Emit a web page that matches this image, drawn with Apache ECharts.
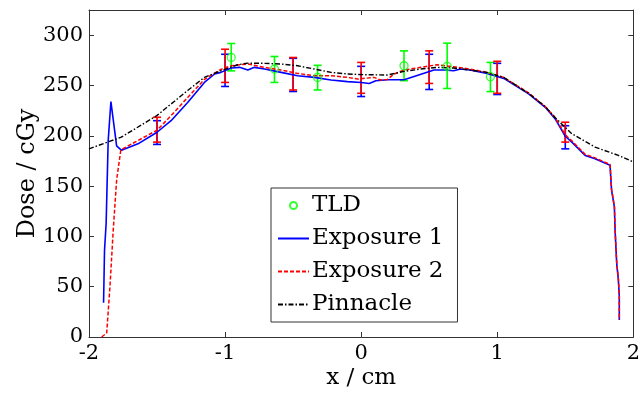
<!DOCTYPE html>
<html>
<head>
<meta charset="utf-8">
<script src="https://cdn.jsdelivr.net/npm/echarts@6/dist/echarts.min.js"></script>
<style>
  html, body { margin: 0; padding: 0; background: #fff; }
  #chart { width: 643px; height: 396px; }
</style>
</head>
<body>
<div id="chart"></div>
<script>
// dose profiles across the field, x in cm, dose in cGy
const exposure1 = [
    [-1.893, 34], [-1.886, 86], [-1.874, 113], [-1.869, 141], [-1.859, 195],
    [-1.839, 234], [-1.797, 190], [-1.761, 185.5], [-1.64, 192], [-1.5, 203.5],
    [-1.397, 215], [-1.275, 233], [-1.152, 253], [-1.077, 261.4], [-1.031, 263],
    [-0.955, 267.3], [-0.894, 268], [-0.833, 265.3], [-0.784, 268], [-0.71, 266.3],
    [-0.588, 263], [-0.467, 259.7], [-0.344, 258], [-0.222, 255.4], [-0.1, 253.8],
    [0, 253], [0.059, 252], [0.108, 254.7], [0.193, 255.7], [0.315, 255.7],
    [0.4, 259.5], [0.535, 265.3], [0.608, 265.3], [0.68, 264.6], [0.73, 266.3],
    [0.8, 265.3], [0.925, 262], [1.048, 257], [1.231, 241.6], [1.353, 228.3],
    [1.426, 216.8], [1.5, 199.5], [1.548, 193.7], [1.646, 180.5], [1.719, 177.2],
    [1.829, 170.6], [1.837, 169.6], [1.84, 146], [1.861, 129], [1.866, 106],
    [1.878, 73], [1.89, 57], [1.897, 40], [1.897, 17]
];
const exposure2 = [
    [-1.907, 0], [-1.87, 4], [-1.846, 50], [-1.822, 106], [-1.797, 156],
    [-1.766, 186], [-1.64, 195.3], [-1.5, 205.5], [-1.397, 220], [-1.275, 238],
    [-1.152, 256], [-1.031, 266], [-0.955, 269.6], [-0.833, 271.3], [-0.71, 268],
    [-0.588, 265.3], [-0.467, 262], [-0.344, 259.7], [-0.222, 259.7], [-0.1, 258],
    [-0.027, 256.4], [0.095, 258], [0.144, 255.4], [0.193, 256], [0.242, 261.4],
    [0.315, 265.3], [0.437, 268], [0.559, 270.6], [0.68, 268.6], [0.8, 266.3],
    [0.925, 263], [1.048, 258], [1.231, 242.5], [1.353, 229], [1.426, 218],
    [1.5, 201], [1.548, 195], [1.646, 181.5], [1.719, 178], [1.829, 171.5],
    [1.837, 170], [1.84, 147], [1.861, 130], [1.866, 107], [1.878, 74],
    [1.89, 58], [1.897, 41], [1.897, 17]
];
const pinnacle = [
    [-2, 187], [-1.763, 198.6], [-1.502, 220], [-1.275, 245], [-1.152, 258],
    [-1.031, 264.6], [-0.908, 270.6], [-0.833, 272.2], [-0.71, 272], [-0.588, 271.3],
    [-0.467, 269.6], [-0.344, 266.3], [-0.222, 263], [-0.1, 261.4], [0.022, 260.7],
    [0.193, 260.4], [0.315, 264], [0.437, 266.3], [0.559, 268], [0.68, 267.3],
    [0.8, 265.3], [0.925, 263], [1.048, 258], [1.231, 242], [1.353, 229],
    [1.426, 218], [1.548, 202], [1.719, 188.7], [1.89, 180.5], [2, 174]
];

// TLD points with error bars
const tldX = [-0.955, -0.637, -0.32, 0.315, 0.632, 0.95];
const tldDose = [277.8, 266.3, 258, 269.6, 269, 258.7];
const tldLow = [264.5, 253, 245.5, 254.8, 247, 243.9];
const tldHigh = [291.7, 278.8, 270, 284.4, 292, 272.9];

// film error bars
const barX = [-1.5, -1, -0.5, 0, 0.5, 1, 1.5];
const exp1Low = [191.4, 249, 244, 239, 246, 241, 187];
const exp1High = [215, 281, 277, 269, 281, 272, 210];
const exp2Low = [193.7, 253, 245.5, 242.2, 252, 242.2, 193.7];
const exp2High = [218.4, 286, 277.8, 272.9, 284.4, 274, 213.5];

const xTicks = [-2, -1, 0, 1, 2];

const FONT = 'DejaVu Serif';

function errorBars(name, xs, lows, highs, color, z) {
    return {
        type: 'custom',
        name: name,
        z: z,
        silent: true,
        encode: { x: 0, y: [1, 2] },
        data: xs.map((x, i) => [x, lows[i], highs[i]]),
        renderItem: function (params, api) {
            const lo = api.coord([api.value(0), api.value(1)]);
            const hi = api.coord([api.value(0), api.value(2)]);
            const w = 4;
            const st = { stroke: color, lineWidth: 1.6 };
            return {
                type: 'group',
                children: [
                    { type: 'line', shape: { x1: lo[0], y1: lo[1], x2: hi[0], y2: hi[1] }, style: st },
                    { type: 'line', shape: { x1: hi[0] - w, y1: hi[1], x2: hi[0] + w, y2: hi[1] }, style: st },
                    { type: 'line', shape: { x1: lo[0] - w, y1: lo[1], x2: lo[0] + w, y2: lo[1] }, style: st }
                ]
            };
        }
    };
}

const axisLineStyle = { color: '#333', width: 1 };
// line series draw a dot in their legend icon; hide it
const noDot = { opacity: 0 };

const option = {
    animation: false,
    backgroundColor: '#fff',
    grid: { left: 89, right: 8, top: 10, bottom: 59 },
    legend: {
        data: [
            { name: 'TLD' },
            { name: 'Exposure 1', itemStyle: noDot },
            { name: 'Exposure 2', itemStyle: noDot },
            { name: 'Pinnacle', itemStyle: noDot }
        ],
        orient: 'vertical',
        left: 271,
        top: 188,
        padding: [6, 14, 6, 6],
        itemGap: 10,
        itemWidth: 31,
        itemHeight: 7,
        borderColor: '#333',
        borderWidth: 1,
        backgroundColor: '#fff',
        textStyle: { fontFamily: FONT, fontSize: 23, color: '#000', lineHeight: 23, padding: [0, 0, 0, -2] }
    },
    xAxis: [
        {
            type: 'value',
            min: -2,
            max: 2,
            interval: 1,
            name: 'x / cm',
            nameLocation: 'middle',
            nameGap: 30,
            nameMoveOverlap: false,
            nameTextStyle: { fontFamily: FONT, fontSize: 23, color: '#000' },
            axisLine: { onZero: false, lineStyle: axisLineStyle },
            axisTick: { inside: true, length: 5, lineStyle: axisLineStyle },
            axisLabel: {
                fontFamily: FONT, fontSize: 21, color: '#000', margin: 6,
                formatter: v => (xTicks.indexOf(v) >= 0 ? String(v) : '')
            },
            splitLine: { show: false }
        },
        {
            type: 'value',
            position: 'top',
            min: -2,
            max: 2,
            interval: 1,
            axisLine: { onZero: false, lineStyle: axisLineStyle },
            axisTick: { inside: true, length: 5, lineStyle: axisLineStyle },
            axisLabel: { show: false },
            splitLine: { show: false }
        }
    ],
    yAxis: [
        {
            type: 'value',
            min: 0,
            max: 325,
            interval: 50,
            name: 'Dose / cGy',
            nameLocation: 'middle',
            nameGap: 49,
            nameMoveOverlap: false,
            nameTextStyle: { fontFamily: FONT, fontSize: 24, color: '#000' },
            axisLine: { show: true, onZero: false, lineStyle: axisLineStyle },
            axisTick: { show: true, inside: true, length: 5, lineStyle: axisLineStyle },
            axisLabel: {
                fontFamily: FONT, fontSize: 21, color: '#000', margin: 6,
                formatter: v => (v % 50 === 0 ? String(v) : '')
            },
            splitLine: { show: false }
        },
        {
            type: 'value',
            position: 'right',
            min: 0,
            max: 325,
            interval: 50,
            axisLine: { show: true, onZero: false, lineStyle: axisLineStyle },
            axisTick: { show: true, inside: true, length: 5, lineStyle: axisLineStyle },
            axisLabel: { show: false },
            splitLine: { show: false }
        }
    ],
    series: [
        errorBars('TLD range', tldX, tldLow, tldHigh, '#00ff00', 2),
        errorBars('Exposure 1 range', barX, exp1Low, exp1High, '#0000ff', 3),
        errorBars('Exposure 2 range', barX, exp2Low, exp2High, '#ff0000', 4),
        {
            name: 'TLD',
            type: 'scatter',
            z: 6,
            symbol: 'circle',
            symbolSize: 8,
            data: tldX.map((x, i) => [x, tldDose[i]]),
            itemStyle: { color: 'rgba(0,0,0,0)', borderColor: '#00ff00', borderWidth: 1.3 }
        },
        {
            name: 'Exposure 1',
            type: 'line',
            z: 5,
            symbol: 'none',
            data: exposure1,
            lineStyle: { color: '#0000ff', width: 1.6 },
            itemStyle: { color: '#0000ff' }
        },
        {
            name: 'Exposure 2',
            type: 'line',
            z: 5,
            symbol: 'none',
            data: exposure2,
            lineStyle: { color: '#ff0000', width: 1.5, type: [4, 2] },
            itemStyle: { color: '#ff0000' }
        },
        {
            name: 'Pinnacle',
            type: 'line',
            z: 5,
            symbol: 'none',
            data: pinnacle,
            lineStyle: { color: '#000', width: 1.4, type: [5, 2, 1.5, 2] },
            itemStyle: { color: '#000' }
        }
    ]
};

const chart = echarts.init(document.getElementById('chart'));
chart.setOption(option);
</script>
</body>
</html>
